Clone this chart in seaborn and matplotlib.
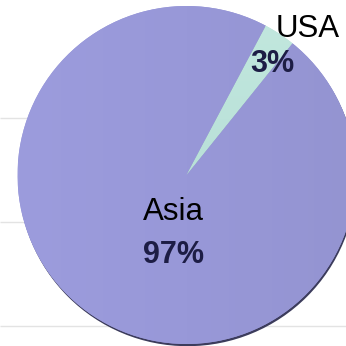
import numpy as np
import matplotlib
matplotlib.use("Agg")
import matplotlib.pyplot as plt
from matplotlib.patches import Circle
import seaborn as sns

# Regional share of the total
regions = ["Asia", "USA"]
shares = [97, 3]

sns.set_theme(style="white")
plt.rcParams["font.family"] = ["Liberation Sans", "DejaVu Sans"]

W = H = 346
fig = plt.figure(figsize=(W / 100, H / 100), dpi=100)
ax = fig.add_axes([0, 0, 1, 1])

# faint background rules
ax.hlines([H - 118, H - 222, H - 326], 0, W, color="#e3e3e3", lw=1.0, zorder=0)

cx, cy, r = 186.5, H - 175, 169

# soft drop shadow under the disc
ax.add_patch(Circle((cx + 1.0, cy - 2.2), r, color="#3c3c5c", zorder=1, lw=0))

slice_colors = ["#9898d8", "#bbe3d9"]
wedges, _ = ax.pie(shares, colors=slice_colors, startangle=62.0, counterclock=True,
                   center=(cx, cy), radius=r, frame=True,
                   wedgeprops=dict(linewidth=0, zorder=2))
for w in wedges:
    w.set_zorder(2)

# gentle left-to-right shading on the large slice
grad = np.linspace(0, 1, 256)[None, :]
cmap = sns.blend_palette(["#9c9cdd", "#9898d8", "#9494d1"], as_cmap=True)
im = ax.imshow(grad, cmap=cmap, extent=(cx - r, cx + r, cy - r, cy + r),
               aspect="auto", zorder=3, interpolation="bilinear")
im.set_clip_path(wedges[0])

# lighter sheen on the small slice
grad2 = np.linspace(0, 1, 256)[:, None]
cmap2 = sns.blend_palette(["#b0d9d3", "#c2e8de"], as_cmap=True)
im2 = ax.imshow(grad2, cmap=cmap2, extent=(cx - r, cx + r, cy - r, cy + r),
                origin="lower", aspect="auto", zorder=3, interpolation="bilinear")
im2.set_clip_path(wedges[1])

name_style = dict(fontsize=22.5, color="black", ha="center", va="baseline", zorder=5)
pct_style = dict(fontsize=22, color="#1d1d45", fontweight="bold", ha="center",
                 va="baseline", zorder=5)

ax.text(173, H - 220, regions[0], **name_style)
ax.text(174, H - 263, f"{shares[0]}%", **pct_style)
ax.text(308, H - 37, regions[1], **name_style)
ax.text(272, H - 72, f"{shares[1]}%", **pct_style)

ax.set_xlim(0, W)
ax.set_ylim(0, H)
ax.set_aspect("auto")
ax.axis("off")

fig.savefig("out.png", dpi=100, facecolor="white")
